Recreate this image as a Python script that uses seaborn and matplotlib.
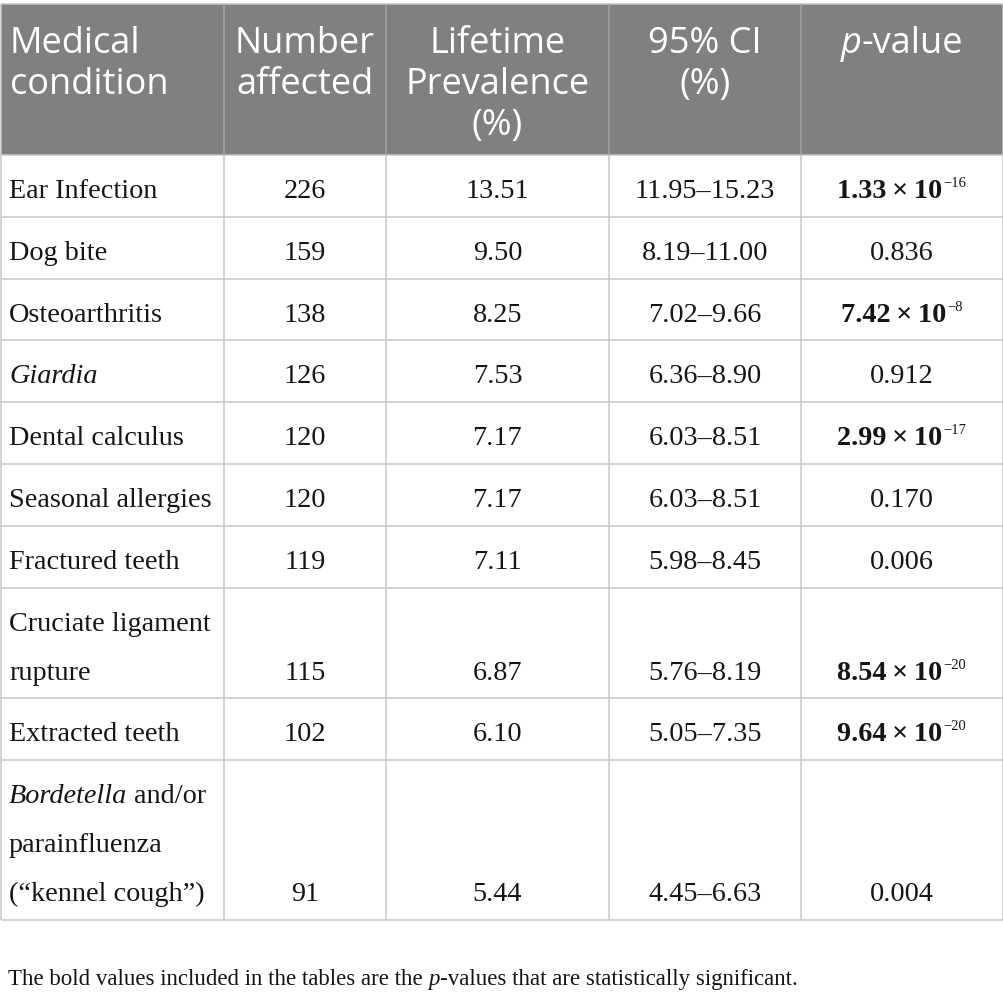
import numpy as np
import pandas as pd
import seaborn as sns
import matplotlib
matplotlib.use("Agg")
import matplotlib.pyplot as plt
from matplotlib.patches import Rectangle

# ---------------- data ----------------
headers = [["Medical", "condition"], ["Number", "affected"],
           ["Lifetime", "Prevalence", "(%)"], ["95% CI", "(%)"], ["p-value"]]
conditions = ["Ear Infection", "Dog bite", "Osteoarthritis", "Giardia",
              "Dental calculus", "Seasonal allergies", "Fractured teeth",
              "Cruciate ligament\nrupture", "Extracted teeth",
              "Bordetella and/or\nparainfluenza\n(\u201ckennel cough\u201d)"]
italic_terms = ["Giardia", "Bordetella"]
number_affected = [226, 159, 138, 126, 120, 120, 119, 115, 102, 91]
prevalence = [13.51, 9.50, 8.25, 7.53, 7.17, 7.17, 7.11, 6.87, 6.10, 5.44]
ci_low = [11.95, 8.19, 7.02, 6.36, 6.03, 6.03, 5.98, 5.76, 5.05, 4.45]
ci_high = [15.23, 11.00, 9.66, 8.90, 8.51, 8.51, 8.45, 8.19, 7.35, 6.63]
p_mantissa = ["1.33", "0.836", "7.42", "0.912", "2.99", "0.170", "0.006", "8.54", "9.64", "0.004"]
p_exponent = [-16, None, -8, None, -17, None, None, -20, -20, None]
significant = [True, False, True, False, True, False, False, True, True, False]
footnote = ["The bold values included in the tables are the", "p",
            "-values that are statistically significant."]

df = pd.DataFrame({"condition": conditions, "n": number_affected,
                   "prev": prevalence, "lo": ci_low, "hi": ci_high,
                   "pm": p_mantissa, "pe": p_exponent, "sig": significant})

# ---------------- style ----------------
sns.set_theme(style="white")
plt.rcParams["font.family"] = ["Liberation Serif", "DejaVu Serif"]

W, H = 1004, 1000
fig = plt.figure(figsize=(W / 100, H / 100), dpi=100)
ax = fig.add_axes([0, 0, 1, 1])
ax.set_xlim(0, W)
ax.set_ylim(H, 0)
ax.axis("off")
renderer = fig.canvas.get_renderer()

TXT = "#151515"
HEAD_BG = "#808080"
GRID = "#c6c6c6"
HEAD_SEP = "#a4a4a4"
LW = 1.1

BODY = dict(family=["Liberation Serif", "DejaVu Serif"], size=20.3, color=TXT)
BODY_I = dict(BODY, style="italic")
BODY_B = dict(BODY, weight="bold")
SUP = dict(BODY, size=10.5)
HEAD = dict(family=["Open Sans", "DejaVu Sans"], size=26, color="white")
HEAD_I = dict(HEAD, style="italic")
FOOT = dict(BODY, size=16.5)
FOOT_I = dict(FOOT, style="italic")

col_edges = [1, 224, 386, 609, 801, 1003]
header_top, header_bot = 4, 155
single_h, line_gap = 61.8, 49.0
pad_left = 8


def text_width(s, props):
    t = ax.text(0, 0, s, **props)
    w = t.get_window_extent(renderer).width
    t.remove()
    return w


def space_width(props):
    return text_width("x x", props) - text_width("xx", props)


def draw_runs(x, y, runs, ha="center"):
    """runs: list of (text, props, rise_px, gap_before_px)"""
    arts, widths = [], []
    for s, props, rise, gap in runs:
        t = ax.text(0, y, s, va="baseline", ha="left", **props)
        arts.append(t)
        widths.append(t.get_window_extent(renderer).width)
    total = sum(widths) + sum(r[3] for r in runs)
    cur = x - total / 2 if ha == "center" else x
    for t, w, (s, props, rise, gap) in zip(arts, widths, runs):
        cur += gap
        t.set_position((cur, y - rise))
        cur += w


# ---------------- geometry ----------------
n_lines = [c.count("\n") + 1 for c in df["condition"]]
row_h = [single_h + line_gap * (n - 1) for n in n_lines]
row_edges = np.concatenate([[header_bot], header_bot + np.cumsum(row_h)])
centers = [(col_edges[i] + col_edges[i + 1]) / 2 for i in range(5)]

# header background
ax.add_patch(Rectangle((col_edges[0], header_top), col_edges[-1] - col_edges[0],
                       header_bot - header_top, facecolor=HEAD_BG, edgecolor="none", zorder=0))

# grid lines
ax.hlines([header_top], col_edges[0], col_edges[-1], color=GRID, lw=LW, zorder=2)
ax.hlines(row_edges, col_edges[0], col_edges[-1], color=GRID, lw=LW, zorder=2)
ax.vlines(col_edges, header_bot, row_edges[-1], color=GRID, lw=LW, zorder=2)
ax.vlines([col_edges[0], col_edges[-1]], header_top, header_bot, color=GRID, lw=LW, zorder=2)
ax.vlines(col_edges[1:-1], header_top, header_bot, color=HEAD_SEP, lw=LW, zorder=2)

# header text
h_base, h_gap = 53, 41
for ci, lines in enumerate(headers):
    for li, line in enumerate(lines):
        y = h_base + li * h_gap
        if line.startswith("p-"):
            draw_runs(centers[ci], y, [("p", HEAD_I, 0, 0), (line[1:], HEAD, 0, 0)])
        elif ci == 0:
            draw_runs(col_edges[0] + 9, y, [(line, HEAD, 0, 0)], ha="left")
        else:
            draw_runs(centers[ci], y, [(line, HEAD, 0, 0)])

# body
first_off = 43
sp_body = space_width(BODY)
for r, row in df.iterrows():
    top, bot = row_edges[r], row_edges[r + 1]
    lines = row["condition"].split("\n")
    for li, line in enumerate(lines):
        y = top + first_off + li * line_gap
        runs = []
        for term in italic_terms:
            if line.startswith(term):
                runs.append((term, BODY_I, 0, 0))
                rest = line[len(term):]
                if rest.strip():
                    runs.append((rest.strip(), BODY, 0, sp_body))
                break
        if not runs:
            runs = [(line, BODY, 0, 0)]
        draw_runs(col_edges[0] + pad_left, y, runs, ha="left")
    y_last = top + first_off + (len(lines) - 1) * line_gap
    draw_runs(centers[1], y_last, [(f"{row['n']}", BODY, 0, 0)])
    draw_runs(centers[2], y_last, [(f"{row['prev']:.2f}", BODY, 0, 0)])
    draw_runs(centers[3], y_last, [(f"{row['lo']:.2f}\u2013{row['hi']:.2f}", BODY, 0, 0)])
    mprops = BODY_B if row["sig"] else BODY
    if row["pe"] is not None and not pd.isna(row["pe"]):
        runs = [(f"{row['pm']}\u2009\u00d7\u200910", mprops, 0, 0),
                (f"\u2212{abs(int(row['pe']))}", SUP, 11, 1)]
    else:
        runs = [(row["pm"], mprops, 0, 0)]
    draw_runs(centers[4], y_last, runs)

# footnote
sp_foot = space_width(FOOT)
draw_runs(8, 985, [(footnote[0], FOOT, 0, 0), (footnote[1], FOOT_I, 0, sp_foot),
                   (footnote[2], FOOT, 0, 0)], ha="left")

fig.savefig("out.png", dpi=100, facecolor="white")
